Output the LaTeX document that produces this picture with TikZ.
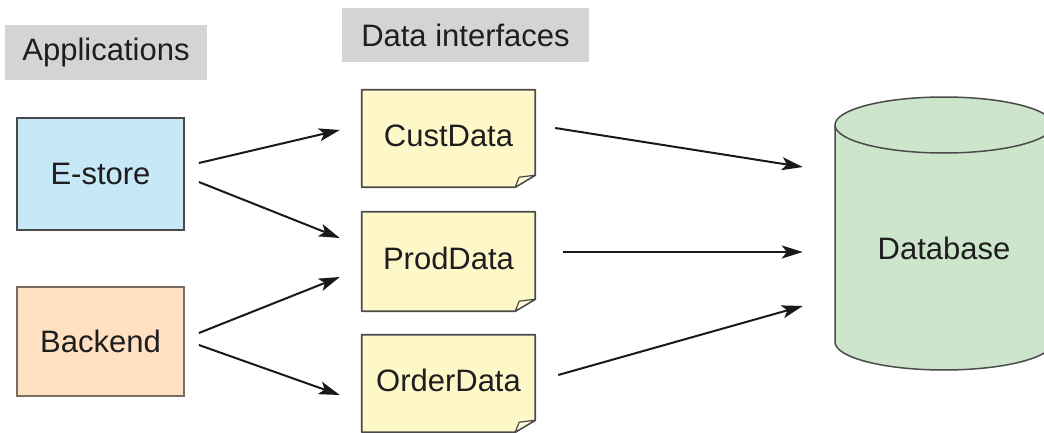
\documentclass[tikz,border=0pt]{standalone}
\usepackage{fontspec}
\setmainfont{Liberation Sans}
\usetikzlibrary{arrows.meta}
\definecolor{labelgrey}{HTML}{D4D4D7}
\definecolor{storeblue}{HTML}{C6E8F7}
\definecolor{backpeach}{HTML}{FFE0C1}
\definecolor{noteyellow}{HTML}{FEF8C9}
\definecolor{dbgreen}{HTML}{CDE6CB}
\definecolor{edge}{HTML}{4A4A4A}
\definecolor{peachedge}{HTML}{7A6C60}
\definecolor{inktext}{HTML}{1E1E1E}
\tikzset{
  txt/.style={font=\fontsize{31}{36}\selectfont, text=inktext},
  header/.style={txt, fill=labelgrey, inner sep=0pt},
  appbox/.style={txt, draw=edge, line width=1.8pt, inner sep=0pt},
  notebox/.style={txt, inner sep=0pt, minimum width=173pt},
  notepath/.style={draw=edge, line width=1.8pt, fill=noteyellow, line join=round},
  foldpath/.style={draw=edge, line width=1.2pt, fill=noteyellow!70!white, line join=round},
  arr/.style={line width=2pt, draw=black!90, -{Stealth[length=21pt,width=13pt,inset=5pt]}},
}
\begin{document}
\begin{tikzpicture}[x=1pt, y=1pt]
  \useasboundingbox (0,0) rectangle (1044,432);

  % column headers
  \node[header, minimum width=202pt, minimum height=55pt] (hApps) at (106,379.5) {Applications};
  \node[header, minimum width=247pt, minimum height=54pt] (hData) at (465.5,397) {Data interfaces};

  % applications
  \node[appbox, fill=storeblue, minimum width=167pt, minimum height=112pt] (estore) at (100.5,258) {E-store};
  \node[appbox, fill=backpeach, draw=peachedge, minimum width=167pt, minimum height=109pt] (backend) at (100.5,90.5) {Backend};

  % data interface notes (outline first, text on top)
  \node[notebox, minimum height=97pt] (cust) at (448.5,293.5) {};
  \node[notebox, minimum height=99pt] (prod) at (448.5,170.5) {};
  \node[notebox, minimum height=97pt] (order) at (448.5,48.5) {};
  \foreach \n in {cust,prod,order}{
    \path[notepath] (\n.north west) -- (\n.north east) -- ([yshift=12]\n.south east)
      -- ([xshift=-20]\n.south east) -- (\n.south west) -- cycle;
    \path[foldpath] ([xshift=-20]\n.south east) -- ([xshift=-16,yshift=10]\n.south east)
      -- ([yshift=12]\n.south east) -- cycle;
  }
  \node[txt] at ([yshift=3]cust.center) {CustData};
  \node[txt] at ([yshift=3]prod.center) {ProdData};
  \node[txt] at ([yshift=3]order.center) {OrderData};

  % database cylinder
  \path[draw=edge, line width=1.5pt, fill=dbgreen]
    (835,307) -- (835,90) arc[start angle=180, end angle=360, x radius=109pt, y radius=28pt]
    -- (1053,307) arc[start angle=0, end angle=180, x radius=109pt, y radius=28pt] -- cycle;
  \draw[edge, line width=1.5pt] (835,307) arc[start angle=180, end angle=360, x radius=109pt, y radius=28pt];
  \node[txt, minimum width=218pt, inner sep=0pt] (db) at (944,184) {Database};

  % connectors
  \draw[arr] ([shift={(14,11)}]estore.east) -- ([shift={(-22,8.5)}]cust.west);
  \draw[arr] ([shift={(14,-8)}]estore.east) -- ([shift={(-22,23.5)}]prod.west);
  \draw[arr] ([shift={(14,8.5)}]backend.east) -- ([shift={(-22,-15.5)}]prod.west);
  \draw[arr] ([shift={(14,-3.5)}]backend.east) -- ([shift={(-22,-11.5)}]order.west);
  \draw[arr] ([shift={(20,10.5)}]cust.east) -- ([shift={(-32,81)}]db.west);
  \draw[arr] ([shift={(28,9.5)}]prod.east) -- ([shift={(-32,-4)}]db.west);
  \draw[arr] ([shift={(23,8.5)}]order.east) -- ([shift={(-32,-58)}]db.west);
\end{tikzpicture}
\end{document}
